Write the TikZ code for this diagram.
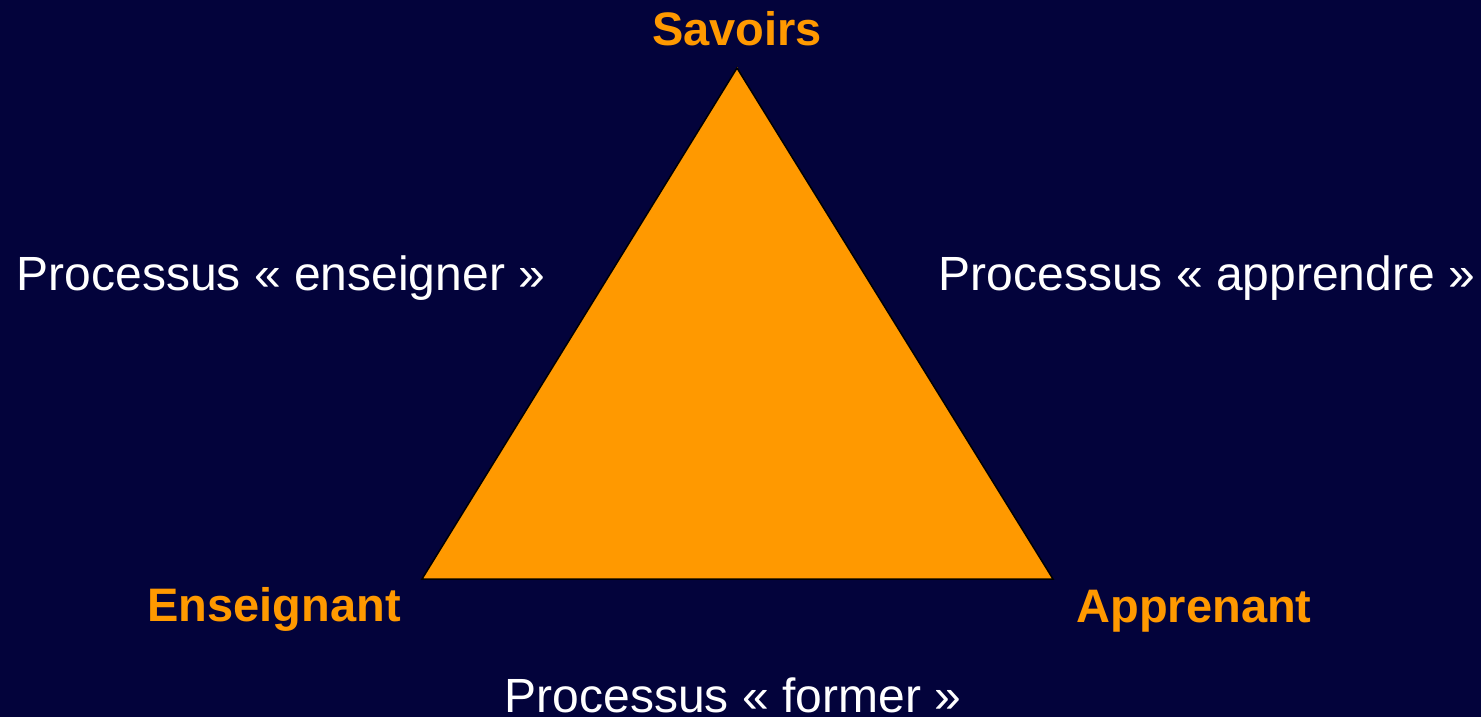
\documentclass[tikz,border=0pt]{standalone}
\usepackage{fontspec}
\setmainfont{Liberation Sans}
\usepackage{xcolor}
\usetikzlibrary{positioning}
\definecolor{fondnuit}{RGB}{3,3,59}
\definecolor{orangesav}{RGB}{255,153,0}
\tikzset{
    sommet/.style={text=orangesav, font=\fontsize{47}{47}\selectfont\bfseries, anchor=base, inner sep=0pt},
    processus/.style={text=white, font=\fontsize{48}{48}\selectfont, anchor=base, inner sep=0pt}
}

\begin{document}
\begin{tikzpicture}[x=1pt, y=-1pt]
    % Fond
    \fill[fondnuit] (0,0) rectangle (1481,717);
    \useasboundingbox (0,0) rectangle (1481,717);

    % Triangle didactique
    \coordinate (haut) at (737,68);
    \coordinate (gauche) at (422,579);
    \coordinate (droite) at (1053,579);
    \draw[orangesav, line width=0pt, fill=orangesav] (haut) -- (gauche) -- (droite) -- cycle;
    \draw[black, line width=1.5pt, line join=miter] (haut) -- (gauche) -- (droite) -- cycle;

    % Poles
    \node[sommet] (savoirs) at (737,46) {Savoirs};
    \node[sommet] (enseignant) at (274,621) {Enseignant};
    \node[sommet] (apprenant) at (1194,622) {Apprenant};

    % Processus
    \node[processus] (procEns) at (281,290) {Processus « enseigner »};
    \node[processus] (procApp) at (1207,290) {Processus « apprendre »};
    \node[processus] (procForm) at (733,712) {Processus « former »};
\end{tikzpicture}
\end{document}
